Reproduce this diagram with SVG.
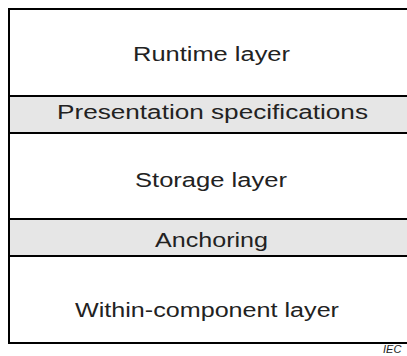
<svg xmlns="http://www.w3.org/2000/svg" width="407" height="356" viewBox="0 0 407 356">
<style>
.lbl{font-family:"Liberation Sans",Arial,sans-serif;font-size:20px;fill:#222;text-anchor:middle}
.band{fill:#e6e6e6}
.ln{stroke:#000;stroke-width:2;fill:none}
</style>
<rect x="0" y="0" width="407" height="356" fill="#fff"/>
<g id="runtime"><text class="lbl" x="211.5" y="61" textLength="157" lengthAdjust="spacingAndGlyphs">Runtime layer</text></g>
<g id="presentation"><rect class="band" x="10" y="97" width="400" height="35"/><text class="lbl" x="212.5" y="119" textLength="311" lengthAdjust="spacingAndGlyphs">Presentation specifications</text></g>
<g id="storage"><text class="lbl" x="211" y="187" textLength="152" lengthAdjust="spacingAndGlyphs">Storage layer</text></g>
<g id="anchoring"><rect class="band" x="10" y="220" width="400" height="35"/><text class="lbl" x="211.5" y="247" textLength="113" lengthAdjust="spacingAndGlyphs">Anchoring</text></g>
<g id="within"><text class="lbl" x="207" y="317" textLength="264" lengthAdjust="spacingAndGlyphs">Within-component layer</text></g>
<g id="connectors">
<rect class="ln" x="9" y="9" width="405" height="334"/>
<line class="ln" x1="9" y1="96" x2="414" y2="96"/>
<line class="ln" x1="9" y1="133" x2="414" y2="133"/>
<line class="ln" x1="9" y1="219" x2="414" y2="219"/>
<line class="ln" x1="9" y1="256" x2="414" y2="256"/>
</g>
<text x="383" y="353" style="font-family:'Liberation Sans',Arial,sans-serif;font-size:11px;font-style:italic;fill:#222">IEC</text>
</svg>
